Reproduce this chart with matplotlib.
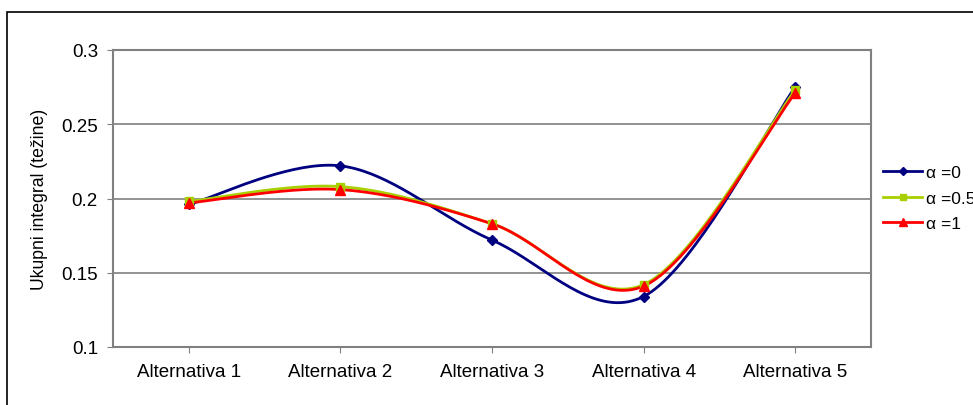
import numpy as np
import matplotlib.pyplot as plt
from matplotlib.patches import Rectangle

plt.rcParams['font.family'] = ['Liberation Sans', 'DejaVu Sans']

categories = ["Alternativa 1", "Alternativa 2", "Alternativa 3", "Alternativa 4", "Alternativa 5"]
alpha_0 = [0.196, 0.222, 0.172, 0.134, 0.275]
alpha_05 = [0.198, 0.208, 0.183, 0.142, 0.273]
alpha_1 = [0.197, 0.206, 0.183, 0.141, 0.271]
labels = ["α =0", "α =0.5", "α =1"]
yticks = [0.1, 0.15, 0.2, 0.25, 0.3]


def smooth(xs, ys, n=40):
    # Excel-like smoothed line: Catmull-Rom segments as cubic Bezier
    xs = np.asarray(xs, float)
    ys = np.asarray(ys, float)
    px = np.concatenate([[xs[0]], xs, [xs[-1]]])
    py = np.concatenate([[ys[0]], ys, [ys[-1]]])
    outx, outy = [], []
    t = np.linspace(0, 1, n)
    for i in range(1, len(px) - 2):
        p0 = np.array([px[i], py[i]])
        p3 = np.array([px[i + 1], py[i + 1]])
        c1 = p0 + (np.array([px[i + 1], py[i + 1]]) - np.array([px[i - 1], py[i - 1]])) / 6
        c2 = p3 - (np.array([px[i + 2], py[i + 2]]) - np.array([px[i], py[i]])) / 6
        b = ((1 - t) ** 3)[:, None] * p0 + (3 * (1 - t) ** 2 * t)[:, None] * c1 \
            + (3 * (1 - t) * t ** 2)[:, None] * c2 + (t ** 3)[:, None] * p3
        outx.extend(b[:, 0])
        outy.extend(b[:, 1])
    return outx, outy


fig = plt.figure(figsize=(9.73, 4.06), dpi=100)
fig.patches.append(Rectangle((7 / 973, -0.1), 1.2, 1 - 13 / 406 + 0.1,
                             transform=fig.transFigure, fill=False,
                             edgecolor='black', linewidth=1.2))
ax = fig.add_axes([113 / 973, 1 - 348 / 406, (871 - 113) / 973, (348 - 51) / 406])

x = np.arange(len(categories))
series = [
    (alpha_0, '#000080', 'D', 5),
    (alpha_05, '#A8D000', 's', 6),
    (alpha_1, '#FF0000', '^', 7),
]
handles = []
for (vals, col, mk, ms), lab in zip(series, labels):
    sx, sy = smooth(x, vals)
    ax.plot(sx, sy, color=col, linewidth=2, zorder=3)
    ax.plot(x, vals, linestyle='none', marker=mk, color=col, markersize=ms, zorder=4)
    h, = ax.plot([], [], color=col, linewidth=2, marker=mk, markersize=ms - 1, label=lab)
    handles.append(h)

ax.set_xlim(-0.5, 4.5)
ax.set_ylim(0.1, 0.3)
ax.set_yticks(yticks)
ax.set_yticklabels(['0.1', '0.15', '0.2', '0.25', '0.3'])
ax.set_xticks(x)
ax.set_xticklabels(categories)
ax.yaxis.grid(True, color='#808080', linewidth=1.2)
ax.set_axisbelow(True)
for s in ax.spines.values():
    s.set_color('#808080')
    s.set_linewidth(1.5)
ax.tick_params(axis='both', colors='#808080', labelcolor='black', labelsize=13.5, length=4.3)
ax.tick_params(axis='y', pad=6.5)
ax.tick_params(axis='x', pad=7)
ax.set_ylabel("Ukupni integral (težine)", fontsize=12.7)
ax.yaxis.set_label_coords((48 - 113) / 758, 0.5)

fig.legend(handles=handles, loc='center left', bbox_to_anchor=(883 / 973, 1 - 199 / 406),
           frameon=False, fontsize=12.5, handlelength=2.25, handletextpad=0.25,
           labelspacing=0.62, borderaxespad=0, borderpad=0)

fig.savefig('out.png', dpi=100)
